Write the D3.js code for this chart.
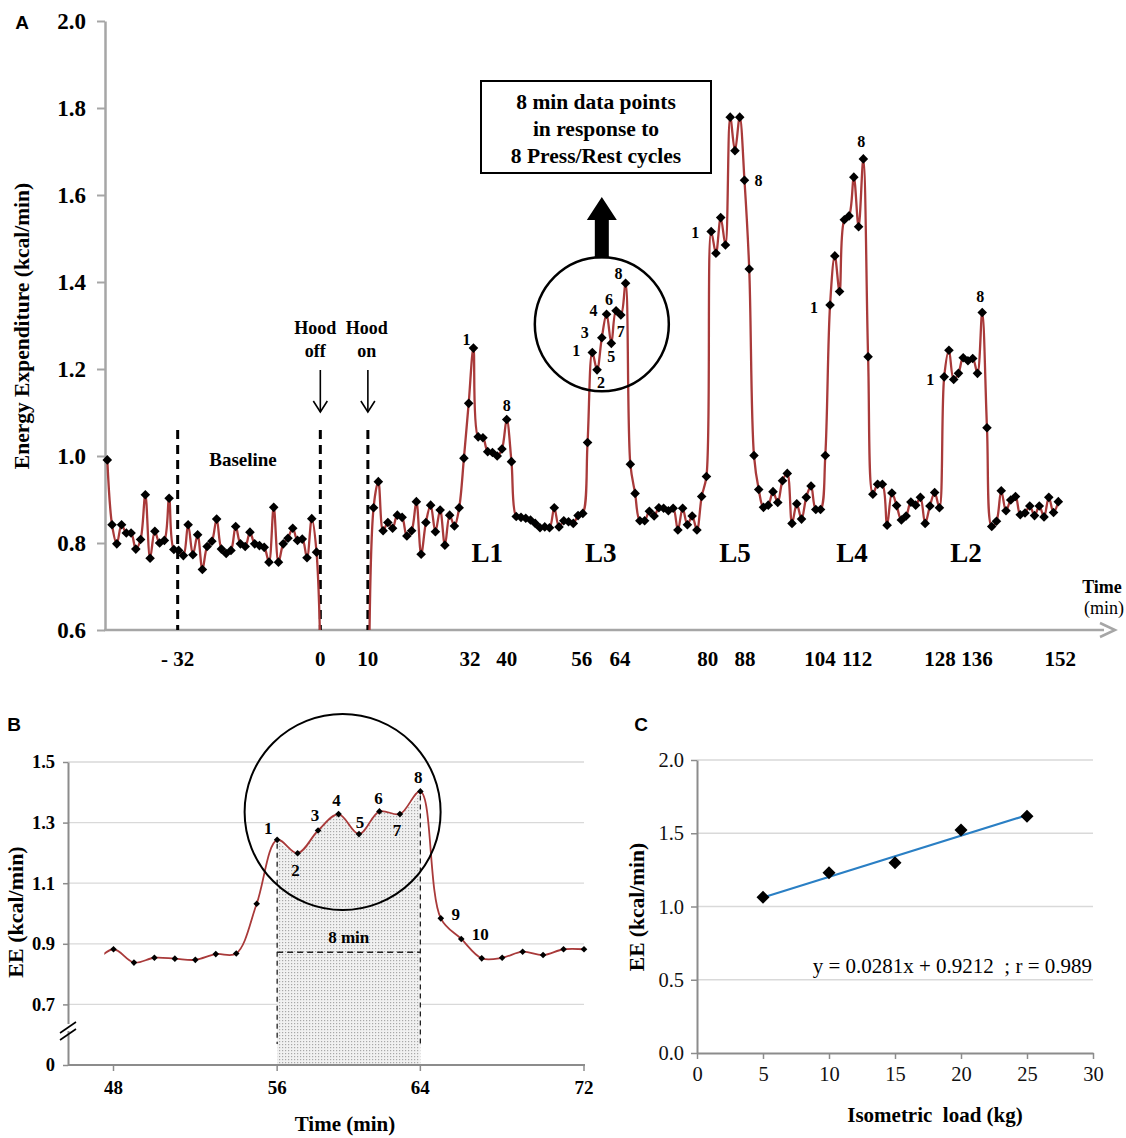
<!DOCTYPE html>
<html><head><meta charset="utf-8">
<script src="https://cdn.jsdelivr.net/npm/d3@7"></script>
<style>body{margin:0;background:#fff}svg{display:block}</style>
</head><body><svg id="c" width="1126" height="1138"></svg>
<script>
// ---------------- DATA ----------------
// Panel A: one sample per index (≈1/min); null = hood-off gap (no data)
const aValues = [
0.991,0.842,0.798,0.842,0.823,0.823,0.786,0.808,0.911,0.765,
0.827,0.800,0.806,0.903,0.785,0.783,0.771,0.842,0.773,0.819,
0.739,0.792,0.804,0.855,0.786,0.776,0.783,0.838,0.798,0.792,
0.825,0.798,0.794,0.790,0.756,0.882,0.756,0.798,0.811,0.834,
0.806,0.809,0.766,0.856,0.779,0.45,null,null,null,null,
null,null,null,null,null,0.45,0.881,0.941,0.828,0.847,
0.834,0.864,0.859,0.816,0.828,0.895,0.774,0.847,0.887,0.826,
0.876,0.795,0.864,0.839,0.881,0.995,1.121,1.248,1.044,1.042,
1.010,1.008,1.000,1.016,1.084,0.987,0.861,0.859,0.857,0.853,
0.845,0.835,0.837,0.835,0.881,0.837,0.851,0.849,0.845,0.863,
0.868,1.031,1.238,1.198,1.272,1.326,1.259,1.334,1.324,1.397,
0.981,0.914,0.851,0.851,0.873,0.862,0.881,0.880,0.874,0.880,
0.830,0.880,0.842,0.862,0.830,0.907,0.953,1.516,1.466,1.548,
1.485,1.779,1.702,1.779,1.634,1.430,1.001,0.923,0.882,0.887,
0.918,0.893,0.943,0.960,0.845,0.890,0.855,0.905,0.931,0.877,
0.877,1.001,1.347,1.460,1.378,1.543,1.552,1.641,1.527,1.683,
1.228,0.912,0.935,0.935,0.841,0.915,0.886,0.853,0.862,0.894,
0.887,0.905,0.845,0.885,0.916,0.881,1.182,1.243,1.176,1.190,
1.226,1.219,1.224,1.190,1.330,1.065,0.838,0.850,0.920,0.874,
0.899,0.907,0.865,0.869,0.885,0.863,0.885,0.860,0.905,0.870,
0.895];
const aYTicks = [0.6,0.8,1.0,1.2,1.4,1.6,1.8,2.0];
const aTickPos = [14.8,44.8,54.8,76.3,84.0,99.8,107.8,126.3,134.1,149.9,157.7,175.1,182.9,200.4];
const aTickLabels = ["- 32","0","10","32","40","56","64","80","88","104","112","128","136","152"];
const aEventPos = [14.8,44.8,54.8];
const aLoadLabels = ["L1","L3","L5","L4","L2"];
const aLoadPos = [79.9,103.8,132.0,156.6,180.6];
const aLoadLevel = 0.777;
const aCycleIdx   = [77,84,102,103,104,105,106,107,108,109,127,134,152,159,176,184];
const aCycleText  = ["1","8","1","2","3","4","5","6","7","8","1","8","1","8","1","8"];
const aCycleDx    = [-7,0,-16,4,-17,-13,0,-7,0,-7,-16,14,-16,-2,-14,-2];
const aCycleDy    = [-9,-14,-2,13,-5,-4,13,-11,16,-10,1,0,2,-17,3,-16];

// Panel B: zoom on L3 (index -1 lies just outside the axis range)
const bValues = [0.835,0.882,0.838,0.854,0.851,0.847,0.866,0.868,1.032,
1.243,1.199,1.274,1.328,1.262,1.337,1.328,1.403,
0.984,0.916,0.852,0.854,0.874,0.863,0.882,0.882];
const bFirstIdx = -1;
const bTickIdx = [0,8,15,23];
const bTickLabels = ["48","56","64","72"];
const bYTicks = [0.5,0.7,0.9,1.1,1.3,1.5];
const bYLabels = ["0","0.7","0.9","1.1","1.3","1.5"];
const bGrid = [0.7,0.9,1.1,1.3,1.5];
const bCycleIdx  = [8,9,10,11,12,13,14,15,16,17];
const bCycleText = ["1","2","3","4","5","6","7","8","9","10"];
const bCycleDx   = [-9,-2,-3,-2,1,-1,-3,-2,15,19];
const bCycleDy   = [-11,17,-15,-14,-12,-13,16,-14,-4,-4];
const bWindow = [8,15];
const bWindowLevel = 0.872;

// Panel C
const cLoads = [5,10,15,20,25];
const cEE = [1.063,1.230,1.298,1.523,1.616];
const cXTicks = [0,5,10,15,20,25,30];
const cYTicks = [0,0.5,1.0,1.5,2.0];
const cSlope = 0.0281, cIntercept = 0.9212;

// ---------------- DRAW ----------------
const SERIF = '"Liberation Serif","Times New Roman",serif';
const SANS = '"Liberation Sans",Arial,sans-serif';
const RED = "#a93a3a";
const AX = "#a6a6a6";
const diamond = h => `M0,${-h}L${h},0L0,${h}L${-h},0Z`;
const svg = d3.select("#c");
svg.append("rect").attr("width",1126).attr("height",1138).attr("fill","#fff");
const defs = svg.append("defs");
function txt(g,x,y,s,o={}){
  return g.append("text").attr("x",x).attr("y",y).text(s)
   .attr("font-family",o.family||SERIF).attr("font-weight",o.weight||"bold")
   .attr("font-size",o.size||16).attr("text-anchor",o.anchor||"middle")
   .attr("dominant-baseline",o.base||"central").attr("fill",o.fill||"#000");
}

// ===== Panel A =====
const gA = svg.append("g");
const xA = d3.scaleLinear().domain([0,200]).range([107.3,1058.3]);
const yA = d3.scaleLinear().domain([0.6,2.0]).range([630,21]);
defs.append("clipPath").attr("id","clipA").append("rect")
  .attr("x",xA.range()[0]-3).attr("y",0).attr("width",1020).attr("height",yA(0.6));
txt(gA,22,22,"A",{family:SANS,size:19});
// y axis
const axA = gA.append("g").attr("transform","translate(105,0)")
  .call(d3.axisLeft(yA).tickValues(aYTicks).tickFormat(d3.format(".1f")).tickSize(8).tickSizeOuter(0).tickPadding(11));
axA.select(".domain").attr("stroke",AX).attr("stroke-width",2.5);
axA.selectAll(".tick line").attr("stroke",AX).attr("stroke-width",2);
axA.selectAll(".tick text").attr("font-family",SERIF).attr("font-weight","bold").attr("font-size",23).attr("fill","#000");
// x axis with arrow
gA.append("line").attr("x1",104).attr("x2",1104).attr("y1",yA(0.6)).attr("y2",yA(0.6)).attr("stroke",AX).attr("stroke-width",2.5);
gA.append("path").attr("d",`M1100,${yA(0.6)-7}L1115,${yA(0.6)}L1100,${yA(0.6)+7}`).attr("fill","none").attr("stroke",AX).attr("stroke-width",2.5);
aTickPos.forEach((p,k)=>txt(gA,xA(p),659,aTickLabels[k],{size:21}));
txt(gA,1102,587,"Time",{size:18});
txt(gA,1104,608,"(min)",{size:18,weight:"normal"});
// y title
txt(gA,0,0,"Energy Expenditure (kcal/min)",{size:21.5}).attr("transform","translate(22,326) rotate(-90)");
// event dashed lines
aEventPos.forEach(p=>gA.append("line").attr("x1",xA(p)).attr("x2",xA(p)).attr("y1",yA(1.06)).attr("y2",yA(0.6))
  .attr("stroke","#000").attr("stroke-width",3).attr("stroke-dasharray","9,6"));
txt(gA,(xA(aEventPos[0])+xA(aEventPos[1]))/2-6,yA(0.993),"Baseline",{size:19});
[[aEventPos[1],-5,"Hood","off"],[aEventPos[2],-1,"Hood","on"]].forEach(([p,dx,a,b])=>{
  const x=xA(p);
  txt(gA,x+dx,328,a,{size:18}); txt(gA,x+dx,351,b,{size:18});
  gA.append("line").attr("x1",x).attr("x2",x).attr("y1",370).attr("y2",412).attr("stroke","#000").attr("stroke-width",1.6);
  gA.append("path").attr("d",`M${x-7},${401}L${x},${412}L${x+7},${401}`).attr("fill","none").attr("stroke","#000").attr("stroke-width",1.6);
});
// series
const aPts = aValues.map((v,i)=>({i,v}));
const lineA = d3.line().defined(d=>d.v!==null).x(d=>xA(d.i)).y(d=>yA(d.v)).curve(d3.curveCatmullRom.alpha(0.5));
gA.append("path").datum(aPts).attr("d",lineA).attr("clip-path","url(#clipA)")
  .attr("fill","none").attr("stroke",RED).attr("stroke-width",2.3);
gA.selectAll("path.mA").data(aPts.filter(d=>d.v!==null&&d.v>=0.6)).join("path").attr("class","mA")
  .attr("d",diamond(4.8)).attr("transform",d=>`translate(${xA(d.i)},${yA(d.v)})`).attr("fill","#000");
// load labels
aLoadLabels.forEach((s,k)=>txt(gA,xA(aLoadPos[k]),yA(aLoadLevel),s,{size:27}));
// cycle numbers
aCycleIdx.forEach((i,k)=>txt(gA,xA(i)+aCycleDx[k],yA(aValues[i])+aCycleDy[k],aCycleText[k],{size:16}));
// circle, arrow, box
const cxA = xA(104.0), cyA = yA(1.303);
gA.append("circle").attr("cx",cxA).attr("cy",cyA).attr("r",67).attr("fill","none").attr("stroke","#000").attr("stroke-width",2.5);
gA.append("path").attr("d",`M${cxA-7},${cyA-66}L${cxA-7},${220}L${cxA-15},${220}L${cxA},${197}L${cxA+15},${220}L${cxA+7},${220}L${cxA+7},${cyA-66}Z`).attr("fill","#000");
gA.append("rect").attr("x",481).attr("y",81).attr("width",230).attr("height",92).attr("fill","#fff").attr("stroke","#000").attr("stroke-width",2);
["8 min data points","in response to","8 Press/Rest cycles"].forEach((s,k)=>txt(gA,596,102+k*27,s,{size:21.5}));

// ===== Panel B =====
const gB = svg.append("g");
const xB = d3.scaleLinear().domain([0,23]).range([113.5,584]);
const yB = d3.scaleLinear().domain([0.5,1.5]).range([1065,762]);
const bLeft = 68, bRight = xB(23);
txt(gB,14,724,"B",{family:SANS,size:19});
bGrid.forEach(v=>gB.append("line").attr("x1",bLeft).attr("x2",bRight).attr("y1",yB(v)).attr("y2",yB(v)).attr("stroke","#d9d9d9").attr("stroke-width",1.3));
// stippled window
const pat = defs.append("pattern").attr("id","dots").attr("width",3).attr("height",3).attr("patternUnits","userSpaceOnUse");
pat.append("rect").attr("width",3).attr("height",3).attr("fill","#f1f1f1");
pat.append("rect").attr("width",1.2).attr("height",1.2).attr("fill","#a8a8a8");
const bPts = bValues.map((v,k)=>({i:k+bFirstIdx,v}));
const curveB = d3.curveCatmullRom.alpha(0.5);
const winPts = bPts.filter(d=>d.i>=bWindow[0]&&d.i<=bWindow[1]);
gB.append("path").datum(winPts).attr("d",d3.area().x(d=>xB(d.i)).y0(yB(0.5)).y1(d=>yB(d.v)).curve(curveB)).attr("fill","url(#dots)");
// axes
const axBy = gB.append("g").attr("transform",`translate(${bLeft},0)`)
  .call(d3.axisLeft(yB).tickValues(bYTicks).tickFormat((d,k)=>bYLabels[k]).tickSize(5).tickSizeOuter(0).tickPadding(8));
axBy.select(".domain").attr("stroke","#8c8c8c").attr("stroke-width",2);
axBy.selectAll(".tick line").attr("stroke","#8c8c8c").attr("stroke-width",1.5);
axBy.selectAll(".tick text").attr("font-family",SERIF).attr("font-weight","bold").attr("font-size",18.5).attr("fill","#000");
gB.append("line").attr("x1",bLeft).attr("x2",bRight+1).attr("y1",yB(0.5)).attr("y2",yB(0.5)).attr("stroke","#8c8c8c").attr("stroke-width",2);
bTickIdx.forEach((p,k)=>{
  gB.append("line").attr("x1",xB(p)).attr("x2",xB(p)).attr("y1",yB(0.5)).attr("y2",yB(0.5)+6).attr("stroke","#8c8c8c").attr("stroke-width",1.5);
  txt(gB,xB(p),1087,bTickLabels[k],{size:19});
});
// axis break
gB.append("rect").attr("x",bLeft-6).attr("y",1024).attr("width",12).attr("height",7).attr("fill","#fff");
[0,7].forEach(o=>gB.append("line").attr("x1",bLeft-8).attr("y1",1033+o).attr("x2",bLeft+8).attr("y2",1022+o).attr("stroke","#000").attr("stroke-width",1.6));
txt(gB,345,1124,"Time (min)",{size:21});
txt(gB,0,0,"EE (kcal/min)",{size:22}).attr("transform","translate(15,912) rotate(-90)");
// dashed window lines
bWindow.forEach(p=>gB.append("line").attr("x1",xB(p)).attr("x2",xB(p)).attr("y1",yB(bValues[p-bFirstIdx])+4).attr("y2",1044)
  .attr("stroke","#222").attr("stroke-width",1.3).attr("stroke-dasharray","5,4"));
gB.append("line").attr("x1",xB(bWindow[0])).attr("x2",xB(bWindow[1])).attr("y1",yB(bWindowLevel)).attr("y2",yB(bWindowLevel))
  .attr("stroke","#222").attr("stroke-width",1.5).attr("stroke-dasharray","6,4");
txt(gB,(xB(bWindow[0])+xB(bWindow[1]))/2,yB(bWindowLevel)-15,"8 min",{size:17});
// line
defs.append("clipPath").attr("id","clipB").append("rect").attr("x",xB(-0.45)).attr("y",700).attr("width",bRight-xB(-0.45)+2).attr("height",400);
gB.append("path").datum(bPts).attr("d",d3.line().x(d=>xB(d.i)).y(d=>yB(d.v)).curve(curveB)).attr("clip-path","url(#clipB)")
  .attr("fill","none").attr("stroke",RED).attr("stroke-width",1.8);
gB.selectAll("path.mB").data(bPts.filter(d=>d.i>=0)).join("path").attr("class","mB")
  .attr("d",diamond(3.3)).attr("transform",d=>`translate(${xB(d.i)},${yB(d.v)})`).attr("fill","#000");
bCycleIdx.forEach((i,k)=>txt(gB,xB(i)+bCycleDx[k],yB(bValues[i-bFirstIdx])+bCycleDy[k],bCycleText[k],{size:17}));
gB.append("circle").attr("cx",xB(11.2)).attr("cy",yB(1.335)).attr("r",98).attr("fill","none").attr("stroke","#000").attr("stroke-width",2);

// ===== Panel C =====
const gC = svg.append("g");
const xC = d3.scaleLinear().domain([0,30]).range([697,1093]);
const yC = d3.scaleLinear().domain([0,2]).range([1053,760]);
txt(gC,641,724,"C",{family:SANS,size:19});
cYTicks.slice(1).forEach(v=>gC.append("line").attr("x1",xC(0)).attr("x2",xC(30)).attr("y1",yC(v)).attr("y2",yC(v)).attr("stroke","#d9d9d9").attr("stroke-width",1.3));
const axCy = gC.append("g").attr("transform",`translate(${xC(0)},0)`)
  .call(d3.axisLeft(yC).tickValues(cYTicks).tickFormat(d3.format(".1f")).tickSize(6).tickSizeOuter(0).tickPadding(7));
const axCx = gC.append("g").attr("transform",`translate(0,${yC(0)})`)
  .call(d3.axisBottom(xC).tickValues(cXTicks).tickFormat(d3.format("d")).tickSize(6).tickSizeOuter(0).tickPadding(7));
[axCy,axCx].forEach(a=>{
  a.select(".domain").attr("stroke","#8c8c8c").attr("stroke-width",2);
  a.selectAll(".tick line").attr("stroke","#8c8c8c").attr("stroke-width",1.5);
  a.selectAll(".tick text").attr("font-family",SERIF).attr("font-size",20.5).attr("fill","#111");
});
txt(gC,0,0,"EE (kcal/min)",{size:21.5}).attr("transform","translate(637,907) rotate(-90)");
txt(gC,935,1115,"Isometric  load (kg)",{size:21}).style("white-space","pre");
const fitX = d3.extent(cLoads);
gC.append("line").attr("x1",xC(fitX[0])).attr("x2",xC(fitX[1]))
  .attr("y1",yC(cSlope*fitX[0]+cIntercept)).attr("y2",yC(cSlope*fitX[1]+cIntercept))
  .attr("stroke","#2a7fc4").attr("stroke-width",2.2);
gC.selectAll("path.mC").data(cLoads.map((x,k)=>({x,y:cEE[k]}))).join("path").attr("class","mC")
  .attr("d",diamond(6.5)).attr("transform",d=>`translate(${xC(d.x)},${yC(d.y)})`).attr("fill","#000");
txt(gC,1092,966,`y = ${cSlope}x + ${cIntercept}  ; r = 0.989`,{size:21,weight:"normal",anchor:"end"}).style("white-space","pre");
</script></body></html>
